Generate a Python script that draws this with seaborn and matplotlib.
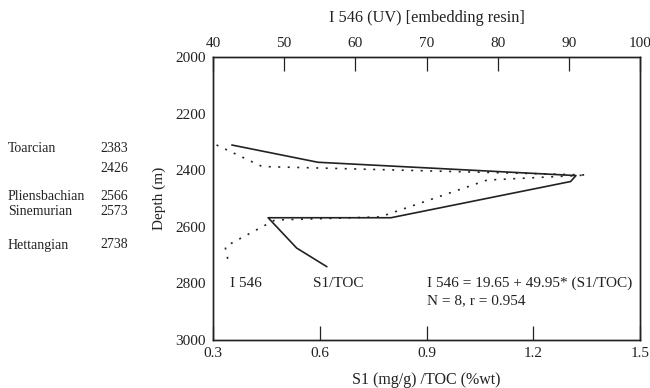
import matplotlib
matplotlib.use("Agg")
import matplotlib.pyplot as plt
import seaborn as sns
import pandas as pd

sns.set_theme(style="white")
plt.rcParams['font.family'] = ['Liberation Serif', 'DejaVu Serif']

# S1/TOC series (bottom axis)
s1toc_depth = [2311, 2372, 2419, 2440, 2568, 2568, 2675, 2741]
s1toc_value = [0.353, 0.595, 1.32, 1.305, 0.80, 0.455, 0.535, 0.62]

# I 546 series (top axis)
i546_depth = [2311, 2387, 2417, 2435, 2565, 2576, 2670, 2729]
i546_value = [40.5, 46.9, 92.5, 78.5, 63.5, 48.7, 41.7, 42.2]

bottom_ticks = [0.3, 0.6, 0.9, 1.2, 1.5]
top_ticks = [40, 50, 60, 70, 80, 90, 100]
depth_ticks = [2000, 2200, 2400, 2600, 2800, 3000]

stages = ["Toarcian", "", "Pliensbachian", "Sinemurian", "Hettangian"]
stage_depths = ["2383", "2426", "2566", "2573", "2738"]
stage_y = [148, 169, 196, 212, 245]

ink = "#222222"
fs = 11

fig = plt.figure(figsize=(6.5, 3.88), dpi=100)
ax = fig.add_axes([213/650, 1-340/388, 427/650, 283/388])

df1 = pd.DataFrame({"x": s1toc_value, "y": s1toc_depth})
sns.lineplot(data=df1, x="x", y="y", sort=False, estimator=None, ax=ax,
             color=ink, linewidth=1.2)
ax.set_xlim(0.3, 1.5)
ax.set_ylim(3000, 2000)
ax.set_xticks(bottom_ticks)
ax.set_xticklabels(["0.3", "0.6", "0.9", "1.2", "1.5"])
ax.set_yticks(depth_ticks)
ax.tick_params(axis="both", direction="in", length=10, width=0.9, color=ink,
               labelsize=fs, labelcolor=ink, pad=5)
ax.set_xlabel("S1 (mg/g) /TOC (%wt)", fontsize=11.5, color=ink, labelpad=9)
ax.set_ylabel("Depth (m)", fontsize=fs, color=ink, labelpad=7)

ax2 = ax.twiny()
df2 = pd.DataFrame({"x": i546_value, "y": i546_depth})
sns.lineplot(data=df2, x="x", y="y", sort=False, estimator=None, ax=ax2,
             color=ink, linewidth=1.2, linestyle=(0, (1.2, 4.5)))
ax2.set_xlim(40, 100)
ax2.set_xticks(top_ticks)
ax2.tick_params(axis="x", direction="in", length=10, width=0.9, color=ink,
                labelsize=fs, labelcolor=ink, pad=5)
ax2.set_xlabel("I 546 (UV) [embedding resin]", fontsize=11.7, color=ink, labelpad=11)
ax2.set_ylabel("")
ax.set_ylim(3000, 2000)

for a in (ax, ax2):
    for sp in a.spines.values():
        sp.set_color(ink)
        sp.set_linewidth(1.0)

# in-plot labels
ax.text(0.348, 2800, "I 546", fontsize=fs, color=ink, va="center", ha="left")
ax.text(0.58, 2800, "S1/TOC", fontsize=fs, color=ink, va="center", ha="left")
ax.text(0.90, 2800, "I 546 = 19.65 + 49.95* (S1/TOC)", fontsize=fs, color=ink,
        va="center", ha="left")
ax.text(0.90, 2860, "N = 8, r = 0.954", fontsize=fs, color=ink,
        va="center", ha="left")

# stage table on the left
for name, d, yy in zip(stages, stage_depths, stage_y):
    fy = 1 - yy/388
    if name:
        fig.text(8/650, fy, name, fontsize=10, color=ink, va="center", ha="left")
    fig.text(100/650, fy, d, fontsize=10, color=ink, va="center", ha="left")

fig.savefig("out.png", dpi=100, facecolor="white")
